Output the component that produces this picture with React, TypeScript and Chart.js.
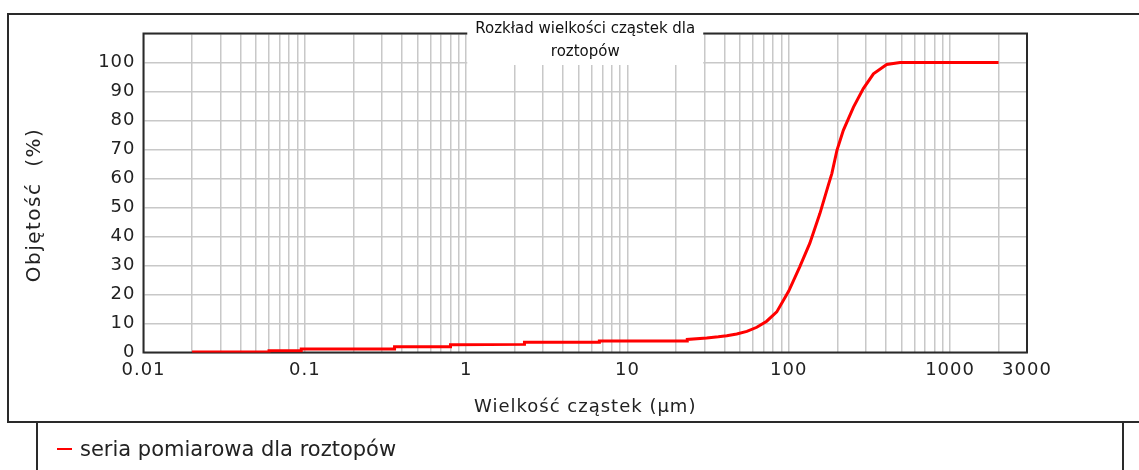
import React, { useEffect, useRef } from 'react';
import { Chart, registerables } from 'chart.js';

Chart.register(...registerables);

// ---- data ----
const particleSizes = [
  0.02, 0.06, 0.06, 0.095, 0.095, 0.36, 0.36, 0.8, 0.8, 2.3, 2.3, 6.7, 6.7, 23.5, 23.5,
  31, 36.6, 41.3, 47.6, 55, 63.4, 73, 84.3, 100, 117, 135, 156, 176, 185, 199, 218, 252, 290,
  335, 405, 490, 2000,
];
const volumePercent = [
  0.2, 0.2, 0.6, 0.6, 1.2, 1.2, 2.0, 2.0, 2.7, 2.8, 3.5, 3.5, 4.0, 4.0, 4.5,
  5.0, 5.4, 5.8, 6.4, 7.3, 8.7, 10.8, 14.0, 21.2, 29.5, 37.6, 47.9, 57.7, 61.7, 69.7, 76.6, 84.6, 91,
  96.1, 99.3, 100, 100,
];

const xTickValues = [
  0.01, 0.02, 0.03, 0.04, 0.05, 0.06, 0.07, 0.08, 0.09,
  0.1, 0.2, 0.3, 0.4, 0.5, 0.6, 0.7, 0.8, 0.9,
  1, 2, 3, 4, 5, 6, 7, 8, 9,
  10, 20, 30, 40, 50, 60, 70, 80, 90,
  100, 200, 300, 400, 500, 600, 700, 800, 900,
  1000, 2000, 3000,
];
const xTickLabels = ['0.01', '0.1', '1', '10', '100', '1000', '3000'];
const yTickValues = [0, 10, 20, 30, 40, 50, 60, 70, 80, 90, 100, 110];
const yTickLabels = ['0', '10', '20', '30', '40', '50', '60', '70', '80', '90', '100'];

const chartTitle = ['Rozkład wielkości cząstek dla', 'roztopów'];
const xAxisTitle = 'Wielkość cząstek (µm)';
const yAxisTitle = 'Objętość  (%)';
const seriesName = 'seria pomiarowa dla roztopów';

const FONT = '"DejaVu Sans", Verdana, sans-serif';
const TEXT = '#222';
const GRID = '#c8c8c8';
const FRAME = '#2a2a2a';
const RED = '#ff0000';

const framePlugin = {
  id: 'plotFrame',
  beforeDraw(chart: any) {
    chart.ctx.letterSpacing = '1px';
  },
  beforeDatasetsDraw(chart: any) {
    const { ctx, chartArea: a } = chart;
    ctx.save();
    ctx.strokeStyle = FRAME;
    ctx.lineWidth = 2;
    ctx.strokeRect(a.left, a.top, a.right - a.left, a.bottom - a.top);
    ctx.restore();
  },
  afterDraw(chart: any) {
    const { ctx, chartArea: a } = chart;
    ctx.save();
    // y-axis title (rotated)
    ctx.letterSpacing = '1.5px';
    ctx.font = `20px ${FONT}`;
    ctx.fillStyle = TEXT;
    ctx.textAlign = 'center';
    ctx.textBaseline = 'middle';
    ctx.translate(35, (a.top + a.bottom) / 2 + 12);
    ctx.rotate(-Math.PI / 2);
    ctx.fillText(yAxisTitle, 0, 0);
    ctx.restore();

    // boxed chart title overlapping the plot frame
    ctx.save();
    ctx.letterSpacing = '0px';
    ctx.font = `15px ${FONT}`;
    const w = Math.max(...chartTitle.map((t) => ctx.measureText(t).width)) + 16;
    const cx = (a.left + a.right) / 2;
    ctx.fillStyle = '#ffffff';
    ctx.fillRect(cx - w / 2, 15, w, a.top + 31.5 - 15);
    ctx.fillStyle = '#111';
    ctx.textAlign = 'center';
    ctx.textBaseline = 'alphabetic';
    chartTitle.forEach((t, i) => ctx.fillText(t, cx, 33 + i * 23));
    ctx.restore();
  },
};

export default function App() {
  const ref = useRef<HTMLCanvasElement | null>(null);

  useEffect(() => {
    if (!ref.current) return;
    const points = particleSizes.map((x, i) => ({ x, y: volumePercent[i] }));
    const chart = new Chart(ref.current, {
      type: 'line',
      data: {
        datasets: [
          {
            label: seriesName,
            data: points,
            borderColor: RED,
            backgroundColor: RED,
            borderWidth: 3,
            pointRadius: 0,
            tension: 0,
            fill: false,
          },
        ],
      },
      options: {
        responsive: false,
        animation: false,
        layout: { padding: { top: 33.5, right: 112, bottom: 48, left: 0 } },
        plugins: {
          legend: { display: false },
          title: { display: false },
          tooltip: { enabled: false },
        },
        scales: {
          x: {
            type: 'logarithmic',
            min: 0.01,
            max: 3000,
            afterBuildTicks: (scale: any) => {
              scale.ticks = xTickValues.map((v) => ({ value: v }));
            },
            afterFit: (scale: any) => {
              scale.height = 69.5;
            },
            ticks: {
              autoSkip: false,
              maxRotation: 0,
              minRotation: 0,
              padding: 7,
              color: TEXT,
              font: { family: FONT, size: 18 },
              callback: (value: any) => {
                const s = String(value);
                return xTickLabels.includes(s) ? s : '';
              },
            },
            grid: { color: GRID, lineWidth: 1.5, drawTicks: false },
            border: { display: false },
            title: {
              display: true,
              text: xAxisTitle,
              color: TEXT,
              font: { family: FONT, size: 18 },
              padding: { top: 0, bottom: 4 },
            },
          },
          y: {
            type: 'linear',
            min: 0,
            max: 110,
            afterBuildTicks: (scale: any) => {
              scale.ticks = yTickValues.map((v) => ({ value: v }));
            },
            afterFit: (scale: any) => {
              scale.width = 143.5;
            },
            ticks: {
              padding: 8,
              color: TEXT,
              font: { family: FONT, size: 18 },
              callback: (value: any) => {
                const s = String(value);
                return yTickLabels.includes(s) ? s : '';
              },
            },
            grid: { color: GRID, lineWidth: 1.5, drawTicks: false },
            border: { display: false },
            title: { display: false },
          },
        },
      },
      plugins: [framePlugin],
    } as any);
    return () => chart.destroy();
  }, []);

  return (
    <div
      style={{
        position: 'fixed',
        left: 0,
        top: 0,
        width: 1139,
        height: 470,
        overflow: 'hidden',
        background: '#ffffff',
      }}
    >
      <canvas
        ref={ref}
        width={1139}
        height={470}
        style={{ position: 'absolute', left: 0, top: 0, width: 1139, height: 470 }}
      />
      <div
        style={{
          position: 'absolute',
          left: 7,
          top: 13,
          width: 1160,
          height: 410,
          border: `2px solid ${FRAME}`,
          boxSizing: 'border-box',
          pointerEvents: 'none',
        }}
      />
      <div
        style={{
          position: 'absolute',
          left: 36,
          top: 421,
          width: 1088,
          height: 80,
          border: `2px solid ${FRAME}`,
          boxSizing: 'border-box',
          pointerEvents: 'none',
        }}
      />
      <div
        style={{
          position: 'absolute',
          left: 57,
          top: 437,
          height: 24,
          display: 'flex',
          alignItems: 'center',
        }}
      >
        <span style={{ display: 'inline-block', width: 15, height: 2, background: RED }} />
        <span
          style={{
            marginLeft: 8,
            font: `21px ${FONT}`,
            lineHeight: '24px',
            color: TEXT,
            whiteSpace: 'nowrap',
          }}
        >
          {seriesName}
        </span>
      </div>
    </div>
  );
}
